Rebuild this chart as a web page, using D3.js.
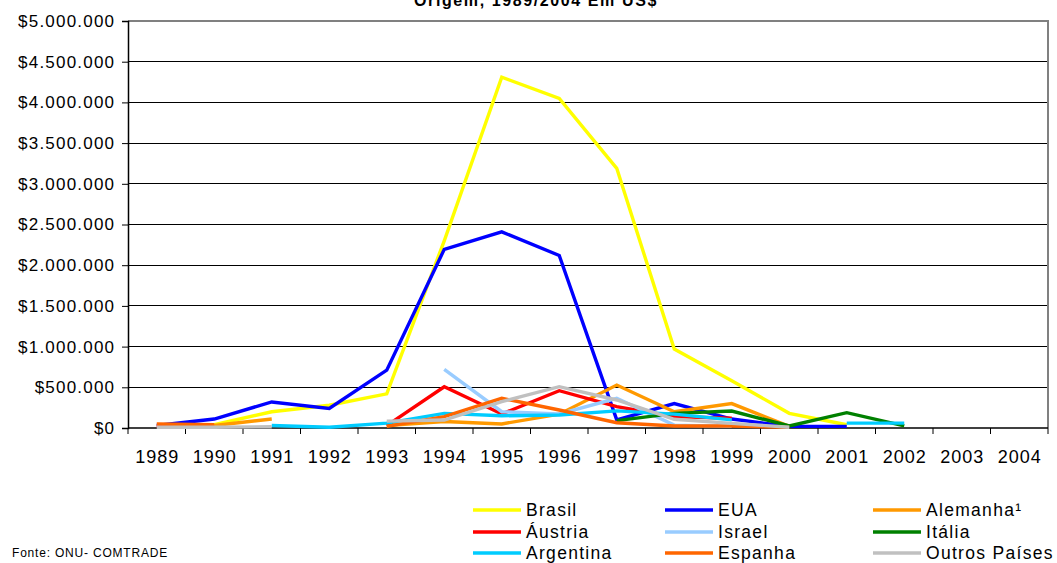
<!DOCTYPE html>
<html>
<head>
<meta charset="utf-8">
<script src="https://cdn.jsdelivr.net/npm/d3@7"></script>
<style>
  body { margin: 0; background: #fff; }
  text { font-family: "Liberation Sans", Arial, sans-serif; fill: #000; }
</style>
</head>
<body>
<div id="chart"></div>
<script>
// years on the x axis
const years = ["1989","1990","1991","1992","1993","1994","1995","1996","1997","1998","1999","2000","2001","2002","2003","2004"];
const yTicks = [0, 500000, 1000000, 1500000, 2000000, 2500000, 3000000, 3500000, 4000000, 4500000, 5000000];

// values per country (null = no data)
const brasil    = [null, 40000, 200000, 280000, 420000, 2300000, 4310000, 4050000, 3190000, 970000, 580000, 180000, 40000, null, null, null];
const eua       = [30000, 110000, 320000, 240000, 710000, 2195000, 2410000, 2120000, 100000, 300000, 110000, 20000, 20000, null, null, null];
const alemanha  = [null, 30000, 110000, null, 30000, 80000, 50000, 170000, 528000, 200000, 300000, 20000, null, null, null, null];
const austria   = [20000, 20000, null, null, 30000, 507000, 172000, 458000, 262000, 140000, 120000, null, null, null, null, null];
const israel    = [null, null, null, null, null, 720000, 200000, 172000, 365000, 35000, 20000, null, null, null, null, null];
const italia    = [null, null, null, null, null, null, null, null, 90000, 180000, 209000, 25000, 188000, 25000, null, null];
const argentina = [null, null, 30000, 10000, 60000, 180000, 150000, 160000, 210000, 170000, 100000, null, 60000, 60000, null, null];
const espanha   = [50000, 40000, null, null, 20000, 140000, 365000, 221000, 65000, 25000, 25000, 8000, null, null, null, null];
const outros    = [10000, 10000, 15000, null, 85000, 98000, 323000, 508000, 344000, 107000, 57000, 10000, null, null, null, null];

const seriesNames  = ["Brasil", "EUA", "Alemanha¹", "Áustria", "Israel", "Itália", "Argentina", "Espanha", "Outros Países"];
const seriesValues = [brasil, eua, alemanha, austria, israel, italia, argentina, espanha, outros];
const seriesColors = ["#FFFF00", "#0000FF", "#FF9900", "#FF0000", "#99CCFF", "#008000", "#00CCFF", "#FF6600", "#C0C0C0"];

const width = 1057, height = 563;
const plotLeft = 128, plotRight = 1048, plotTop = 21, plotBottom = 428;

const svg = d3.select("#chart").append("svg")
    .attr("width", width)
    .attr("height", height);

const x = d3.scaleBand().domain(years).range([plotLeft, plotRight]);
const y = d3.scaleLinear().domain([0, 5000000]).range([plotBottom, plotTop]);

const fmt = v => "$" + d3.format(",")(v).replace(/,/g, ".");

// title (only its last line shows, cut at the top)
svg.append("text")
    .attr("x", 536).attr("y", 6)
    .attr("text-anchor", "middle")
    .style("font-size", "16px").style("font-weight", "bold")
    .style("letter-spacing", "1.6px")
    .text("Origem, 1989/2004 Em US$");

// gridlines
svg.append("g").selectAll("line")
    .data(yTicks.slice(1, -1))
    .join("line")
    .attr("x1", plotLeft).attr("x2", plotRight)
    .attr("y1", d => y(d)).attr("y2", d => y(d))
    .attr("stroke", "#000").attr("stroke-width", 1).attr("shape-rendering", "crispEdges");

// plot border (top/right, grey)
svg.append("path")
    .attr("d", `M${plotLeft},${y(5000000)}H${plotRight}V${plotBottom}`)
    .attr("fill", "none").attr("stroke", "#808080").attr("stroke-width", 2)
    .attr("shape-rendering", "crispEdges");

// y axis
const yAxis = svg.append("g")
    .attr("transform", `translate(${plotLeft},0)`)
    .call(d3.axisLeft(y).tickValues(yTicks).tickFormat(fmt).tickSize(6).tickPadding(8));
yAxis.attr("font-family", null).attr("font-size", null);
yAxis.select(".domain").attr("stroke", "#000").attr("stroke-width", 1.5);
yAxis.selectAll("text").style("font-size", "17px").style("letter-spacing", "1.2px")
    .attr("dx", "1.2px");

// x axis: ticks between categories
const xAxis = svg.append("g").attr("transform", `translate(0,${plotBottom})`);
xAxis.append("line").attr("x1", plotLeft).attr("x2", plotRight).attr("stroke", "#000").attr("stroke-width", 1.5);
xAxis.selectAll("line.tick")
    .data(d3.range(years.length + 1))
    .join("line").attr("class", "tick")
    .attr("x1", i => plotLeft + i * x.bandwidth()).attr("x2", i => plotLeft + i * x.bandwidth())
    .attr("y1", 0).attr("y2", 6).attr("stroke", "#000");
xAxis.selectAll("text")
    .data(years)
    .join("text")
    .attr("x", d => x(d) + x.bandwidth() / 2 + 0.5)
    .attr("y", 35)
    .attr("text-anchor", "middle")
    .style("font-size", "18px").style("letter-spacing", "1px")
    .text(d => d);

// lines
const line = d3.line()
    .defined(d => d != null)
    .x((d, i) => x(years[i]) + x.bandwidth() / 2)
    .y(d => y(d));

svg.append("g").selectAll("path")
    .data(seriesValues)
    .join("path")
    .attr("d", d => line(d))
    .attr("fill", "none")
    .attr("stroke", (d, i) => seriesColors[i])
    .attr("stroke-width", 3.4)
    .attr("stroke-linejoin", "miter");

// legend, 3 columns by 3 rows
const legX = [473, 665, 873];
const legY = [510, 532, 553];
const legend = svg.append("g").selectAll("g")
    .data(seriesNames)
    .join("g")
    .attr("transform", (d, i) => `translate(${legX[i % 3]},${legY[Math.floor(i / 3)]})`);
legend.append("line")
    .attr("x1", 0).attr("x2", 48)
    .attr("stroke", (d, i) => seriesColors[i]).attr("stroke-width", 3.5);
legend.append("text")
    .attr("x", 53).attr("y", 6)
    .style("font-size", "17.5px").style("letter-spacing", "1.3px")
    .text(d => d);

// source
svg.append("text")
    .attr("x", 12).attr("y", 557)
    .style("font-size", "12px").style("letter-spacing", "0.8px")
    .text("Fonte: ONU- COMTRADE");
</script>
</body>
</html>
